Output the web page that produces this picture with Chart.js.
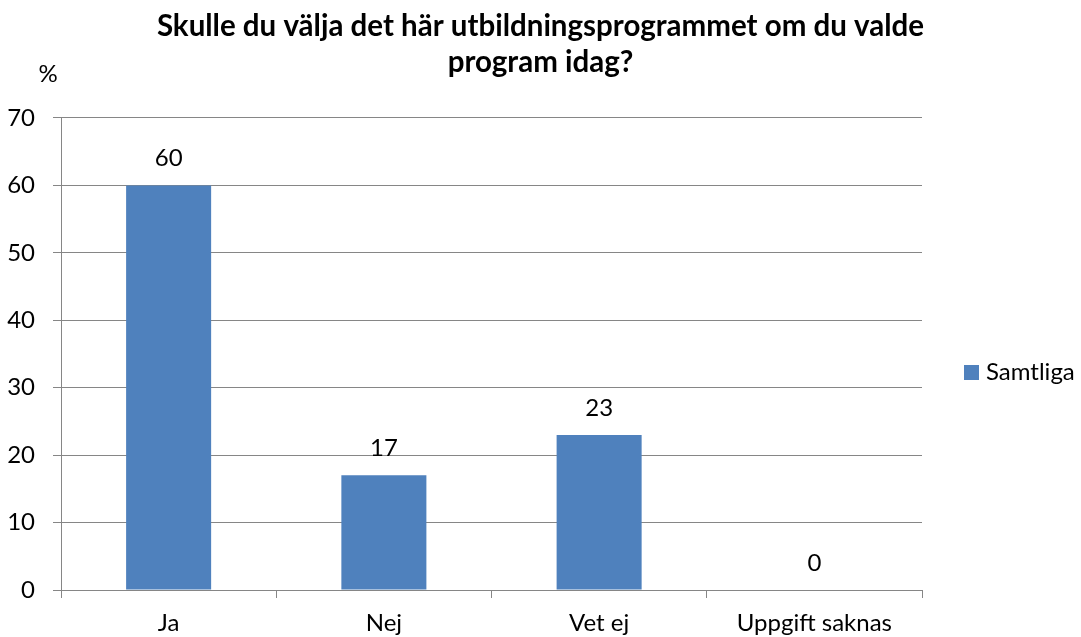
<!DOCTYPE html>
<html lang="sv">
<head>
  <meta charset="UTF-8">
  <title>Skulle du välja det här utbildningsprogrammet</title>
  <script src="https://cdn.jsdelivr.net/npm/chart.js"></script>
  <style>
    html, body { margin: 0; padding: 0; background: #fff; }
    #wrap { width: 1081px; height: 637px; }
  </style>
</head>
<body>
  <div id="wrap"><canvas id="chart" width="1081" height="637"></canvas></div>
  <script>
    // data
    const categories = ['Ja', 'Nej', 'Vet ej', 'Uppgift saknas'];
    const samtliga = [60, 17, 23, 0];
    const seriesName = 'Samtliga';
    const titleLines = ['Skulle du välja det här utbildningsprogrammet om du valde', 'program idag?'];
    const yMin = 0, yMax = 70, yStep = 10;

    const barColor = '#4F81BD';
    const gridColor = '#868686';
    const fontFamily = 'Lato, "Open Sans", sans-serif';

    // numbers above each bar
    const valueLabels = {
      id: 'valueLabels',
      afterDatasetsDraw(chart) {
        const ctx = chart.ctx;
        ctx.save();
        ctx.font = '24px ' + fontFamily;
        ctx.fillStyle = '#000';
        ctx.textAlign = 'center';
        ctx.textBaseline = 'middle';
        chart.getDatasetMeta(0).data.forEach((bar, i) => {
          ctx.fillText(String(chart.data.datasets[0].data[i]), bar.x, bar.y - 27);
        });
        ctx.restore();
      }
    };

    // "%" unit above the y axis and the legend on the right
    const extras = {
      id: 'extras',
      afterDraw(chart) {
        const ctx = chart.ctx;
        const area = chart.chartArea;
        ctx.save();
        ctx.font = '24px ' + fontFamily;
        ctx.fillStyle = '#000';
        ctx.textBaseline = 'middle';
        ctx.textAlign = 'center';
        ctx.fillText('%', 48, 74);

        const ds = chart.data.datasets[0];
        const lx = area.right + 42, ly = 372;
        ctx.fillStyle = ds.backgroundColor;
        ctx.fillRect(lx, ly - 7, 15, 15);
        ctx.fillStyle = '#000';
        ctx.textAlign = 'left';
        ctx.fillText(ds.label, lx + 22, ly);
        ctx.restore();
      }
    };

    new Chart(document.getElementById('chart'), {
      type: 'bar',
      data: {
        labels: categories,
        datasets: [{
          label: seriesName,
          data: samtliga,
          backgroundColor: barColor,
          categoryPercentage: 1,
          barPercentage: 0.395
        }]
      },
      options: {
        responsive: false,
        animation: false,
        layout: { padding: 0 },
        plugins: {
          legend: { display: false },
          tooltip: { enabled: false },
          title: {
            display: true,
            text: titleLines,
            color: '#000',
            font: { family: fontFamily, size: 29.5, weight: 'bold', lineHeight: 1.22 },
            padding: { top: 8, bottom: 38 }
          }
        },
        scales: {
          x: {
            afterFit: s => { s.height = 47; },
            border: { display: true, color: gridColor, width: 1 },
            grid: { display: true, drawOnChartArea: false, drawTicks: true, tickLength: 8, color: gridColor, offset: true },
            ticks: { color: '#000', font: { family: fontFamily, size: 24 }, padding: 11 }
          },
          y: {
            min: yMin,
            max: yMax,
            afterFit: s => { s.width = 61; },
            border: { display: true, color: gridColor, width: 1 },
            grid: { color: gridColor, lineWidth: 1, drawTicks: true, tickLength: 8 },
            ticks: { stepSize: yStep, color: '#000', font: { family: fontFamily, size: 24 }, padding: 18 }
          },
          // empty right-hand axis that reserves room for the legend
          yRight: {
            position: 'right',
            min: yMin,
            max: yMax,
            afterFit: s => { s.width = 159; },
            border: { display: false },
            grid: { display: false },
            ticks: { display: false }
          }
        }
      },
      plugins: [valueLabels, extras]
    });
  </script>
</body>
</html>
